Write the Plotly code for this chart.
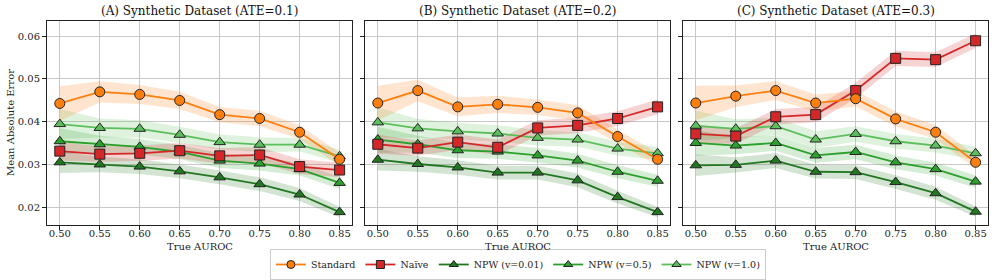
import plotly.graph_objects as go

auroc = [0.50, 0.55, 0.60, 0.65, 0.70, 0.75, 0.80, 0.85]
panel_titles = ["(A) Synthetic Dataset (ATE=0.1)", "(B) Synthetic Dataset (ATE=0.2)", "(C) Synthetic Dataset (ATE=0.3)"]
series_names = ["Standard", "Naïve", "NPW (v=0.01)", "NPW (v=0.5)", "NPW (v=1.0)"]
y_ticks = [0.02, 0.03, 0.04, 0.05, 0.06]

# Panel A (ATE=0.1)
a_standard = [0.0443, 0.0470, 0.0464, 0.0450, 0.0417, 0.0408, 0.0376, 0.0313]
a_naive = [0.0332, 0.0325, 0.0327, 0.0333, 0.0321, 0.0323, 0.0296, 0.0288]
a_npw001 = [0.0306, 0.0301, 0.0296, 0.0285, 0.0271, 0.0255, 0.0231, 0.0190]
a_npw05 = [0.0355, 0.0348, 0.0342, 0.0330, 0.0310, 0.0303, 0.0290, 0.0258]
a_npw10 = [0.0395, 0.0386, 0.0384, 0.0370, 0.0353, 0.0347, 0.0347, 0.0320]

# Panel B (ATE=0.2)
b_standard = [0.0444, 0.0473, 0.0435, 0.0441, 0.0434, 0.0421, 0.0366, 0.0313]
b_naive = [0.0348, 0.0339, 0.0353, 0.0341, 0.0386, 0.0392, 0.0408, 0.0435]
b_npw001 = [0.0312, 0.0302, 0.0294, 0.0282, 0.0282, 0.0264, 0.0225, 0.0190]
b_npw05 = [0.0359, 0.0348, 0.0334, 0.0331, 0.0322, 0.0310, 0.0284, 0.0263]
b_npw10 = [0.0399, 0.0385, 0.0378, 0.0373, 0.0363, 0.0359, 0.0338, 0.0327]

# Panel C (ATE=0.3)
c_standard = [0.0444, 0.0460, 0.0473, 0.0444, 0.0454, 0.0407, 0.0376, 0.0306]
c_naive = [0.0372, 0.0367, 0.0412, 0.0417, 0.0473, 0.0548, 0.0545, 0.0589]
c_npw001 = [0.0299, 0.0300, 0.0310, 0.0284, 0.0283, 0.0260, 0.0234, 0.0191]
c_npw05 = [0.0351, 0.0345, 0.0351, 0.0322, 0.0330, 0.0306, 0.0290, 0.0261]
c_npw10 = [0.0391, 0.0384, 0.0390, 0.0359, 0.0372, 0.0355, 0.0345, 0.0327]

# Band half-widths (shaded uncertainty)
err_standard = [0.0040, 0.0025, 0.0022, 0.0020, 0.0018, 0.0018, 0.0016, 0.0015]
err_naive = [0.0022, 0.0018, 0.0018, 0.0018, 0.0018, 0.0018, 0.0017, 0.0017]
err_npw001 = [0.0025, 0.0018, 0.0017, 0.0016, 0.0016, 0.0016, 0.0015, 0.0012]
err_npw05 = [0.0030, 0.0020, 0.0018, 0.0017, 0.0017, 0.0016, 0.0015, 0.0014]
err_npw10 = [0.0035, 0.0022, 0.0020, 0.0019, 0.0018, 0.0017, 0.0016, 0.0015]

panels = [
    [a_standard, a_naive, a_npw001, a_npw05, a_npw10],
    [b_standard, b_naive, b_npw001, b_npw05, b_npw10],
    [c_standard, c_naive, c_npw001, c_npw05, c_npw10],
]
errs = [err_standard, err_naive, err_npw001, err_npw05, err_npw10]
colors = ["#ff7f0e", "#d62728", "#217821", "#2ca02c", "#5cbf5c"]
fills = ["rgba(255,127,14,0.2)", "rgba(214,39,40,0.2)", "rgba(33,120,33,0.2)",
         "rgba(44,160,44,0.2)", "rgba(92,191,92,0.2)"]
symbols = ["circle", "square", "triangle-up", "triangle-up", "triangle-up"]
msizes = [10, 10, 10, 10, 10]

FONT = "DejaVu Serif"
fig = go.Figure()

# plot area in pixels: x 47..988, panels at 47-352, 365-670, 683-988; y 21..225
W = 941.0
H = 204.0
domains = [[0.0, 305 / W], [318 / W, 623 / W], [636 / W, 1.0]]

order = [4, 3, 2, 1, 0]
for p, pdata in enumerate(panels):
    xa = "x" if p == 0 else f"x{p+1}"
    ya = "y" if p == 0 else f"y{p+1}"
    for s in order:
        vals = pdata[s]
        up = [v + e for v, e in zip(vals, errs[s])]
        lo = [v - e for v, e in zip(vals, errs[s])]
        fig.add_trace(go.Scatter(x=auroc + auroc[::-1], y=up + lo[::-1], mode="lines", fill="toself",
                                 fillcolor=fills[s], line=dict(width=0), hoverinfo="skip",
                                 showlegend=False, xaxis=xa, yaxis=ya))
    for s in order:
        fig.add_trace(go.Scatter(x=auroc, y=pdata[s], mode="lines+markers", name=series_names[s],
                                 line=dict(color=colors[s], width=1.8),
                                 marker=dict(symbol=symbols[s], size=msizes[s], color=colors[s],
                                             line=dict(color="#222222", width=1)),
                                 showlegend=False, xaxis=xa, yaxis=ya))

for s in range(5):
    fig.add_trace(go.Scatter(x=[None], y=[None], mode="lines+markers", name=series_names[s],
                             line=dict(color=colors[s], width=1.8),
                             marker=dict(symbol=symbols[s], size=8, color=colors[s],
                                         line=dict(color="#222222", width=1)),
                             showlegend=True))

axis_common = dict(showline=True, linecolor="#222222", linewidth=1, mirror=True,
                   showgrid=True, gridcolor="#c8c8c8", gridwidth=1, ticks="outside",
                   ticklen=4, tickcolor="#222222", zeroline=False, automargin=False,
                   tickfont=dict(family=FONT, size=10, color="#222222"))

layout = dict(
    width=996, height=280,
    margin=dict(l=47, r=8, t=21, b=55),
    plot_bgcolor="white", paper_bgcolor="white",
    font=dict(family=FONT, color="#222222"),
    legend=dict(orientation="h", x=0.52, y=-0.012, xref="container", yref="container",
                xanchor="center", yanchor="bottom",
                bordercolor="#cccccc", borderwidth=1, font=dict(family=FONT, size=9.5),
                itemwidth=30, tracegroupgap=0),
    showlegend=True,
)
for p in range(3):
    xk = "xaxis" if p == 0 else f"xaxis{p+1}"
    yk = "yaxis" if p == 0 else f"yaxis{p+1}"
    xa = dict(axis_common, domain=domains[p], range=[0.484, 0.8655],
              tickvals=auroc, ticktext=[f"{v:.2f}" for v in auroc],
              ticklabeloverflow="allow", ticklabelstandoff=-5,
              anchor="y" if p == 0 else f"y{p+1}")
    ya = dict(axis_common, domain=[0, 1], range=[0.0160, 0.0635], tickvals=y_ticks,
              ticktext=[f"{v:.2f}" for v in y_ticks],
              anchor="x" if p == 0 else f"x{p+1}",
              showticklabels=(p == 0))
    layout[xk] = xa
    layout[yk] = ya

anns = []
for p in range(3):
    cx = (domains[p][0] + domains[p][1]) / 2
    anns.append(dict(text=panel_titles[p], x=cx, y=1.0, xref="paper", yref="paper",
                     xanchor="center", yanchor="bottom", yshift=1, showarrow=False,
                     font=dict(family=FONT, size=12, color="#111111")))
    anns.append(dict(text="True AUROC", x=cx, y=-(246 - 225) / H, xref="paper", yref="paper",
                     xanchor="center", yanchor="middle", showarrow=False,
                     font=dict(family=FONT, size=10, color="#222222")))
anns.append(dict(text="Mean Absolute Error", x=(10 - 47) / W, y=0.5, xref="paper", yref="paper",
                 xanchor="center", yanchor="middle", textangle=-90, showarrow=False,
                 font=dict(family=FONT, size=10, color="#222222")))
layout["annotations"] = anns
fig.update_layout(**layout)
fig.write_html("out.html", config={"displayModeBar": False},
               post_script="document.body.style.margin='0px';")
